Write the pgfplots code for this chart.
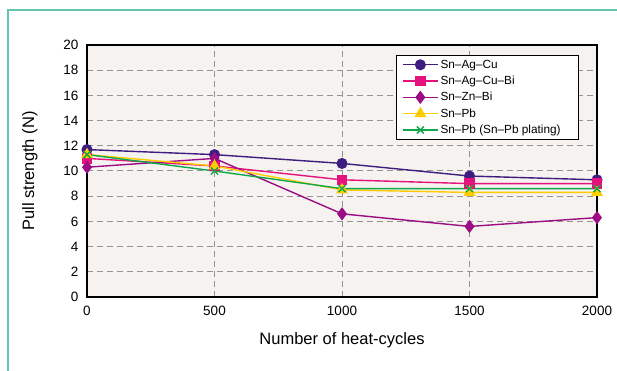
\documentclass[border=0pt]{standalone}
\usepackage{fontspec}
\setmainfont{Liberation Sans}
\usepackage{pgfplots}
\pgfplotsset{compat=1.18}
\definecolor{framec}{HTML}{66C4B2}
\definecolor{bgc}{HTML}{F5F2EF}
\definecolor{c1}{HTML}{3F1D80}
\definecolor{c2}{HTML}{E5127D}
\definecolor{c3}{HTML}{9C0C85}
\definecolor{c4}{HTML}{FFCC00}
\definecolor{c5}{HTML}{10A84A}
\begin{document}
\begin{tikzpicture}[x=1pt,y=1pt]
\useasboundingbox (0,0) rectangle (617,371);
\fill[white] (0,0) rectangle (617,371);
\draw[framec, line width=2pt] (8,0) -- (8,361) -- (617,361);
\begin{axis}[
  at={(87pt,74pt)}, anchor=south west,
  scale only axis, width=510pt, height=252pt,
  xmin=0, xmax=2000, ymin=0, ymax=20,
  xtick={0,500,1000,1500,2000}, ytick={0,2,...,20},
  grid=major,
  major grid style={draw=gray!85, line width=1pt, dash pattern=on 6pt off 4pt},
  axis background/.style={fill=bgc},
  axis line style={black, line width=1.2pt},
  major tick length=0pt,
  /pgf/number format/assume math mode=true,
  /pgf/number format/1000 sep={},
  ticklabel style={font=\fontsize{13.5}{15}\selectfont},
  xticklabel style={yshift=-6pt},
  yticklabel style={xshift=-5pt},
  xlabel={Number of heat-cycles},
  ylabel={Pull strength (N)},
  label style={font=\fontsize{16.5}{19}\selectfont},
  xlabel style={at={(axis description cs:0.5,-0.171)}, anchor=center},
  ylabel style={at={(axis description cs:-0.112,0.5)}, anchor=center},
  legend style={at={(axis description cs:0.9647,0.9603)}, anchor=north east,
    draw=black, line width=0.8pt, fill=white, font=\fontsize{11.8}{13}\selectfont,
    inner xsep=6pt, inner ysep=2.5pt, row sep=2.3pt},
  legend cell align=left,
  legend image code/.code={\draw[mark repeat=2,mark phase=2] plot coordinates {(0pt,0pt) (17.5pt,0pt) (35pt,0pt)};},
  every axis plot/.append style={line width=1.4pt},
]
\addplot[c1, mark=*, mark size=4.8pt, mark options={fill=c1, draw=c1}] coordinates {(0,11.7) (500,11.3) (1000,10.6) (1500,9.6) (2000,9.3)};
\addlegendentry{Sn--Ag--Cu}
\addplot[c2, mark=square*, mark size=4.6pt, mark options={fill=c2, draw=c2}] coordinates {(0,11.0) (500,10.4) (1000,9.3) (1500,9.0) (2000,9.0)};
\addlegendentry{Sn--Ag--Cu--Bi}
\addplot[c3, mark=diamond*, mark size=5.5pt, mark options={fill=c3, draw=c3}] coordinates {(0,10.3) (500,11.0) (1000,6.6) (1500,5.6) (2000,6.3)};
\addlegendentry{Sn--Zn--Bi}
\addplot[c4, mark=triangle*, mark size=5.5pt, mark options={fill=c4, draw=c4}] coordinates {(0,11.3) (500,10.4) (1000,8.5) (1500,8.3) (2000,8.3)};
\addlegendentry{Sn--Pb}
\addplot[c5, mark=x, mark size=5pt, mark options={draw=c5}] coordinates {(0,11.3) (500,10.0) (1000,8.6) (1500,8.6) (2000,8.6)};
\addlegendentry{Sn--Pb (Sn--Pb plating)\rule{10pt}{0pt}}
\end{axis}
\end{tikzpicture}
\end{document}
